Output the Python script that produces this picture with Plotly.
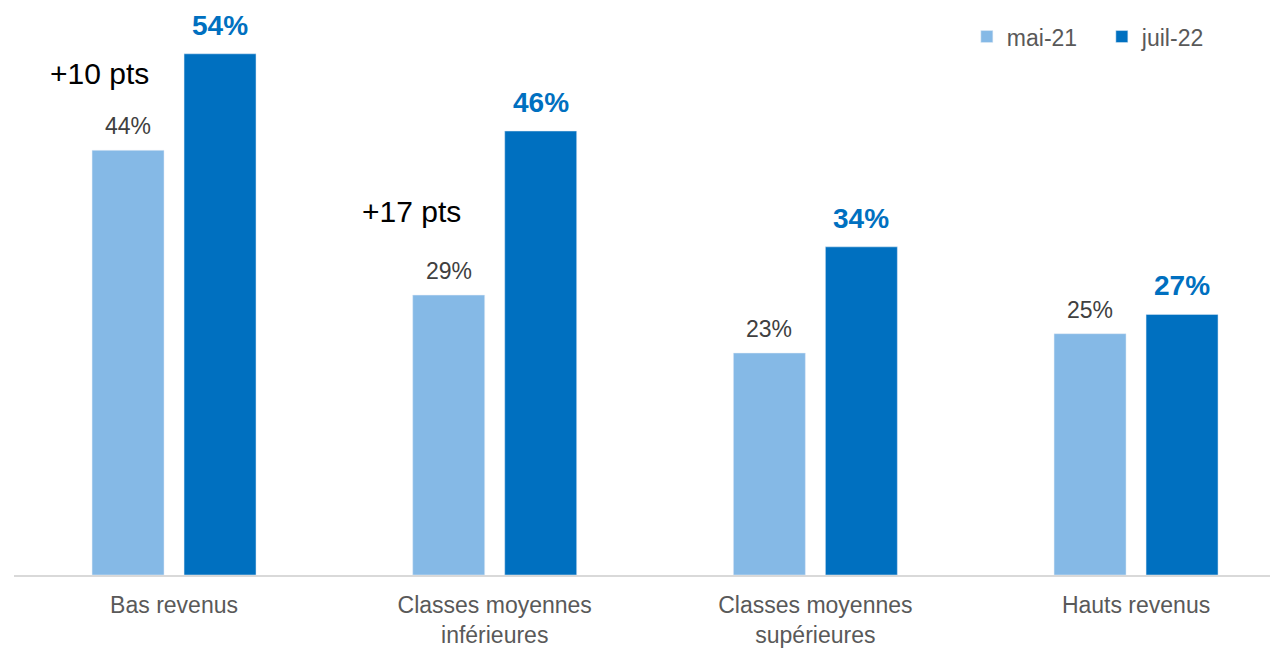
import plotly.graph_objects as go

categories = ["Bas revenus", "Classes moyennes<br>inférieures", "Classes moyennes<br>supérieures", "Hauts revenus"]
series_names = ["mai-21", "juil-22"]
values_mai21 = [44, 29, 23, 25]
values_juil22 = [54, 46, 34, 27]
gap_labels = ["+10 pts", "+17 pts"]
gap_label_pos = [(-0.231, 52.0), (0.739, 37.7)]

LIGHT = "#85B9E6"
DARK = "#0070C0"
FONT = "Liberation Sans, Arial, sans-serif"

W = 0.2245
OFF_L = -0.2557
OFF_D = 0.0312
PX_PER_CAT = 320.67
PX_PER_PCT = 9.652

xs = list(range(len(categories)))

fig = go.Figure()
fig.add_trace(go.Bar(x=xs, y=values_mai21, name=series_names[0], marker_color=LIGHT,
                     width=W, offset=OFF_L, hoverinfo="skip"))
fig.add_trace(go.Bar(x=xs, y=values_juil22, name=series_names[1], marker_color=DARK,
                     width=W, offset=OFF_D, hoverinfo="skip"))

annotations = []
for i, v in enumerate(values_mai21):
    annotations.append(dict(x=i + OFF_L + W / 2, y=v, xref="x", yref="y", text=f"{v}%",
                            showarrow=False, yanchor="bottom", yshift=9,
                            font=dict(family=FONT, size=23, color="#404040")))
for i, v in enumerate(values_juil22):
    annotations.append(dict(x=i + OFF_D + W / 2, y=v, xref="x", yref="y", text=f"<b>{v}%</b>",
                            showarrow=False, yanchor="bottom", yshift=11,
                            font=dict(family=FONT, size=28, color=DARK)))
for t, (gx, gy) in zip(gap_labels, gap_label_pos):
    annotations.append(dict(x=gx, y=gy, xref="x", yref="y", text=t, showarrow=False,
                            font=dict(family=FONT, size=30, color="#000000")))

FIG_W, FIG_H = 1270, 642
TOP, BOT = 2, 75

fig.update_layout(
    width=FIG_W, height=FIG_H,
    margin=dict(l=0, r=0, t=TOP, b=BOT, pad=0, autoexpand=False),
    paper_bgcolor="white", plot_bgcolor="white",
    barmode="overlay",
    showlegend=True,
    legend=dict(orientation="h", x=0.755, y=0.991, xanchor="left", yanchor="top",
                font=dict(family=FONT, size=23, color="#595959"),
                entrywidth=90, entrywidthmode="pixels", bgcolor="rgba(0,0,0,0)"),
    annotations=annotations,
    font=dict(family=FONT),
)
fig.update_xaxes(
    tickmode="array", tickvals=xs, ticktext=categories,
    range=[-0.5, -0.5 + (FIG_W - 5.7) / PX_PER_CAT],
    domain=[5.7 / FIG_W, 1.0],
    showline=True, linecolor="#D9D9D9", linewidth=2,
    showgrid=False, zeroline=False, ticks="",
    ticklabelstandoff=8,
    tickfont=dict(family=FONT, size=23, color="#595959"),
    fixedrange=True,
)
fig.update_yaxes(range=[0, (FIG_H - TOP - BOT) / PX_PER_PCT], visible=False,
                 showgrid=False, zeroline=False, fixedrange=True)

fig.write_html("out.html")
